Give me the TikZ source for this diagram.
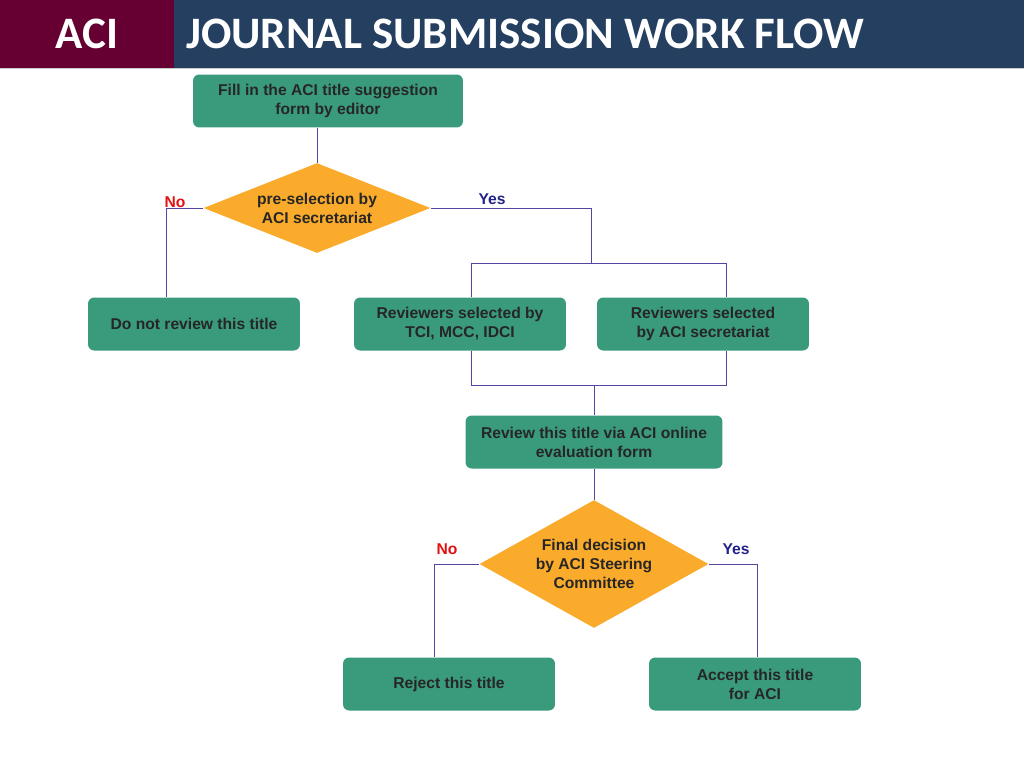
\documentclass[tikz,border=0pt]{standalone}
\usepackage{fontspec}
\setmainfont{Liberation Sans}
\newfontfamily\titlefont{Carlito}
\usetikzlibrary{positioning, shapes.geometric}
\definecolor{AciMaroon}{HTML}{660033}
\definecolor{AciNavy}{HTML}{243F60}
\definecolor{StepGreen}{HTML}{3A9A7C}
\definecolor{DecideGold}{HTML}{FBAB2B}
\definecolor{FlowLine}{HTML}{5246A0}
\definecolor{YesBlue}{HTML}{222288}
\definecolor{NoRed}{HTML}{E31010}
\tikzset{
  stepbox/.style={fill=StepGreen, rounded corners=3.5pt, align=center, minimum width=4.24cm, minimum height=1.06cm, inner sep=2pt, font=\fontsize{8.9}{10.8}\selectfont\bfseries, text=black!85},
  decision/.style={diamond, fill=DecideGold, align=center, inner sep=0pt, font=\fontsize{8.9}{10.8}\selectfont\bfseries, text=black!85},
  flow/.style={draw=FlowLine, thin},
  yeslabel/.style={text=YesBlue, font=\fontsize{8.9}{10}\selectfont\bfseries},
  nolabel/.style={text=NoRed, font=\fontsize{8.9}{10}\selectfont\bfseries}
}
\begin{document}
\begin{tikzpicture}[x=0.02cm,y=-0.02cm]
\useasboundingbox (0,0) rectangle (1024,768);
% header
\fill[AciMaroon] (0,0) rectangle (174,68);
\fill[AciNavy] (174,0) rectangle (1024,68);
\draw[black!20] (0,68.5) -- (1024,68.5);
\node[text=white, font=\titlefont\fontsize{25.6}{27}\selectfont\bfseries] (brand) at (87,34) {ACI};
\node[text=white, font=\titlefont\fontsize{25.6}{27}\selectfont\bfseries, anchor=west] (title) at (180,34) {JOURNAL SUBMISSION WORK FLOW};

% steps
\node[stepbox, minimum width=5.4cm] (fill) at (328,101) {Fill in the ACI title suggestion\\form by editor};
\node[decision, aspect=2.52, minimum width=4.54cm, minimum height=1.8cm] (pre) at (317,208) {pre-selection by\\ACI secretariat};
\node[stepbox] (skip) at (194,324) {Do not review this title};
\node[stepbox] (revtci) at (460,324) {Reviewers selected by\\TCI, MCC, IDCI};
\node[stepbox] (revaci) at (703,324) {Reviewers selected\\by ACI secretariat};
\node[stepbox, minimum width=5.14cm] (online) at (594,442) {Review this title via ACI online\\evaluation form};
\node[decision, aspect=1.79, minimum width=4.58cm, minimum height=2.56cm] (final) at (594,564) {Final decision\\by ACI Steering\\Committee};
\node[stepbox] (reject) at (449,684) {Reject this title};
\node[stepbox] (accept) at (755,684) {Accept this title\\for ACI};

% junctions
\coordinate (yesdrop) at (591,263);
\coordinate (splitL) at (471,263);
\coordinate (splitR) at (726,263);
\coordinate (joinL) at (471,385);
\coordinate (joinR) at (726,385);
\coordinate (joinM) at (594,385);

% connectors
\draw[flow] (fill.south -| pre.north) -- (pre.north);
\draw[flow] (pre.west) -| (skip.north -| 166,0);
\draw[flow] (pre.east) -| (yesdrop);
\draw[flow] (splitL) -- (splitR);
\draw[flow] (splitL) -- (revtci.north -| splitL);
\draw[flow] (splitR) -- (revaci.north -| splitR);
\draw[flow] (revtci.south -| joinL) -- (joinL) -- (joinR) -- (revaci.south -| joinR);
\draw[flow] (joinM) -- (online.north);
\draw[flow] (online.south) -- (final.north);
\draw[flow] (final.west) -| (reject.north -| 434,0);
\draw[flow] (final.east) -| (accept.north -| 757,0);

% labels
\node[nolabel] (prenolbl) at (175,202) {No};
\node[yeslabel] (preyeslbl) at (492,199) {Yes};
\node[nolabel] (finnolbl) at (447,549) {No};
\node[yeslabel] (finyeslbl) at (736,549) {Yes};
\end{tikzpicture}
\end{document}
